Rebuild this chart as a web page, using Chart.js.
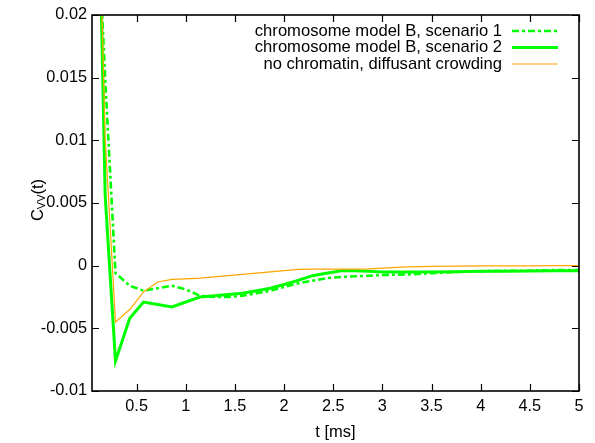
<!DOCTYPE html>
<html>
<head>
<meta charset="utf-8">
<script src="https://cdn.jsdelivr.net/npm/chart.js@4.4.1/dist/chart.umd.min.js"></script>
<style>
  html, body { margin: 0; padding: 0; background: #fff; }
  #wrap { width: 595px; height: 443px; }
</style>
</head>
<body>
<div id="wrap"><canvas id="cvvChart"></canvas></div>
<script>
// velocity autocorrelation C_vv(t), three runs
const tMs = [0.138, 0.18, 0.285, 0.43, 0.57, 0.715, 0.86, 1.0, 1.145, 1.29, 1.43, 1.575, 1.72, 1.86, 2.0,
  2.15, 2.29, 2.43, 2.58, 2.72, 2.86, 3.0, 3.25, 3.5, 3.75, 4.0, 4.25, 4.5, 4.75, 5.0];

const scenario1 = [0.022, 0.0149, -0.0006, -0.0016, -0.002, -0.0018, -0.0016, -0.0019, -0.0024, -0.0025, -0.0025,
  -0.0024, -0.0022, -0.002, -0.0017, -0.0014, -0.0012, -0.001, -0.0009, -0.00085, -0.0008, -0.00075, -0.0007,
  -0.0006, -0.0005, -0.00045, -0.0004, -0.0004, -0.00035, -0.00035];

const scenario2 = [0.0215, 0.0056, -0.0076, -0.0042, -0.0029, -0.0031, -0.0033, -0.0029, -0.0025, -0.0024, -0.0023,
  -0.0022, -0.002, -0.0018, -0.0015, -0.00115, -0.0008, -0.0006, -0.0004, -0.0004, -0.00045, -0.0005, -0.0005,
  -0.0005, -0.00048, -0.00045, -0.00045, -0.00042, -0.0004, -0.0004];

const noChromatin = [0.0229, 0.0102, -0.0045, -0.0035, -0.0021, -0.0013, -0.0011, -0.00105, -0.001, -0.0009, -0.0008,
  -0.0007, -0.0006, -0.0005, -0.0004, -0.0003, -0.00027, -0.00027, -0.00027, -0.00027, -0.00025, -0.0002, -0.0001,
  -0.00005, -0.00003, -0.00002, -0.00002, -0.00001, 0, 0];

const seriesLabels = ['chromosome model B, scenario 1', 'chromosome model B, scenario 2', 'no chromatin, diffusant crowding'];
const xTicks = [0.5, 1, 1.5, 2, 2.5, 3, 3.5, 4, 4.5, 5];
const yTicks = [-0.01, -0.005, 0, 0.005, 0.01, 0.015, 0.02];
const yTickText = ['-0.01', '-0.005', '0', '0.005', '0.01', '0.015', '0.02'];

const FONT = "'Liberation Sans', Arial, Helvetica, sans-serif";

const toPoints = (ys) => tMs.map((t, i) => ({ x: t, y: ys[i] }));

// border box + inward ticks on all four sides, gnuplot style
const frameTicks = {
  id: 'frameTicks',
  afterDraw(chart) {
    const { ctx, chartArea: a, scales: { x, y } } = chart;
    const len = 7;
    ctx.save();
    ctx.strokeStyle = '#000';
    ctx.lineWidth = 1.2;
    ctx.beginPath();
    xTicks.forEach(v => {
      const px = Math.round(x.getPixelForValue(v)) + 0.5;
      ctx.moveTo(px, a.bottom); ctx.lineTo(px, a.bottom - len);
      ctx.moveTo(px, a.top); ctx.lineTo(px, a.top + len);
    });
    yTicks.forEach(v => {
      const py = Math.round(y.getPixelForValue(v)) + 0.5;
      ctx.moveTo(a.left, py); ctx.lineTo(a.left + len, py);
      ctx.moveTo(a.right, py); ctx.lineTo(a.right - len, py);
    });
    ctx.stroke();
    ctx.lineWidth = 1.6;
    ctx.strokeRect(a.left, a.top, a.right - a.left, a.bottom - a.top);
    ctx.restore();
  }
};

// key in the top right: text right-aligned, line sample after it
const keyBox = {
  id: 'keyBox',
  afterDraw(chart) {
    const { ctx } = chart;
    ctx.save();
    ctx.font = `16.6px ${FONT}`;
    ctx.fillStyle = '#000';
    ctx.textAlign = 'right';
    ctx.textBaseline = 'middle';
    chart.data.datasets.forEach((ds, i) => {
      const yy = 31 + i * 16.5;
      ctx.fillText(ds.label, 502, yy);
      ctx.beginPath();
      ctx.strokeStyle = ds.borderColor;
      ctx.lineWidth = ds.borderWidth;
      ctx.setLineDash(ds.borderDash || []);
      ctx.moveTo(512, yy);
      ctx.lineTo(558, yy);
      ctx.stroke();
    });
    ctx.restore();
  }
};

// rotated y title with subscript
const yTitle = {
  id: 'yTitle',
  afterDraw(chart) {
    const { ctx } = chart;
    ctx.save();
    ctx.translate(38, 200);
    ctx.rotate(-Math.PI / 2);
    ctx.fillStyle = '#000';
    ctx.textBaseline = 'middle';
    ctx.font = `16.5px ${FONT}`;
    const wC = ctx.measureText('C').width;
    ctx.font = `11px ${FONT}`;
    const wSub = ctx.measureText('VV').width;
    ctx.font = `16.5px ${FONT}`;
    const wT = ctx.measureText('(t)').width;
    let x0 = -(wC + wSub + wT) / 2;
    ctx.fillText('C', x0, 0);
    x0 += wC;
    ctx.font = `11px ${FONT}`;
    ctx.fillText('VV', x0, 4);
    x0 += wSub;
    ctx.font = `16.5px ${FONT}`;
    ctx.fillText('(t)', x0, 0);
    ctx.restore();
  }
};

new Chart(document.getElementById('cvvChart'), {
  type: 'line',
  data: {
    datasets: [
      {
        label: seriesLabels[0],
        data: toPoints(scenario1),
        borderColor: '#00ff00',
        borderWidth: 2.6,
        borderDash: [7, 3, 3, 3],
        order: 2
      },
      {
        label: seriesLabels[1],
        data: toPoints(scenario2),
        borderColor: '#00ff00',
        borderWidth: 3,
        order: 1
      },
      {
        label: seriesLabels[2],
        data: toPoints(noChromatin),
        borderColor: '#ffa500',
        borderWidth: 1.2,
        order: 0
      }
    ]
  },
  options: {
    responsive: true,
    maintainAspectRatio: false,
    animation: false,
    elements: { point: { radius: 0 }, line: { tension: 0, fill: false } },
    layout: { padding: { top: 15, right: 16, left: 0, bottom: 0 } },
    plugins: { legend: { display: false }, tooltip: { enabled: false } },
    scales: {
      x: {
        type: 'linear',
        min: 0.046,
        max: 5,
        grid: { display: false, drawTicks: false },
        border: { display: false },
        afterBuildTicks: (s) => { s.ticks = xTicks.map(v => ({ value: v })); },
        afterFit: (s) => { s.height = 52; },
        ticks: {
          color: '#000',
          font: { family: FONT, size: 16.3 },
          padding: 6,
          maxRotation: 0,
          autoSkip: false,
          callback: (v) => String(v)
        },
        title: {
          display: true,
          text: 't [ms]',
          color: '#000',
          font: { family: FONT, size: 16.5 },
          padding: { top: 0, bottom: 1 }
        }
      },
      y: {
        type: 'linear',
        min: -0.01,
        max: 0.02,
        grid: { display: false, drawTicks: false },
        border: { display: false },
        afterBuildTicks: (s) => { s.ticks = yTicks.map(v => ({ value: v })); },
        afterFit: (s) => { s.width = 92; },
        ticks: {
          color: '#000',
          font: { family: FONT, size: 16.3 },
          padding: 5,
          autoSkip: false,
          callback: (v) => yTickText[yTicks.indexOf(v)] ?? ''
        }
      }
    }
  },
  plugins: [frameTicks, keyBox, yTitle]
});
</script>
</body>
</html>
